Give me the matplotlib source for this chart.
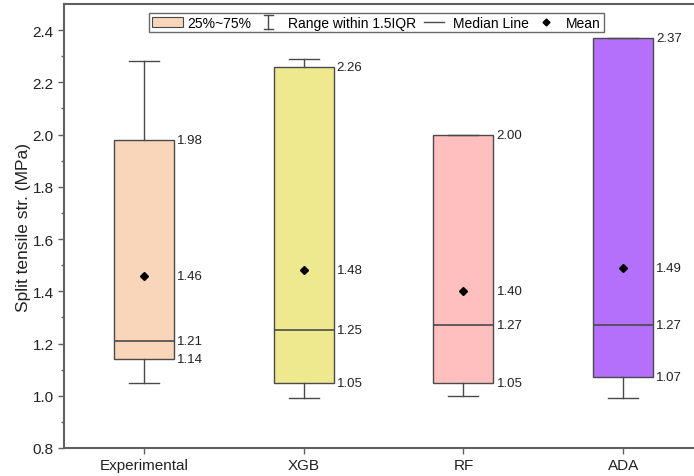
import matplotlib
matplotlib.use('Agg')
import matplotlib.pyplot as plt
from matplotlib.patches import Patch
from matplotlib.lines import Line2D
from matplotlib.legend_handler import HandlerBase

plt.rcParams['font.family'] = ['Liberation Sans', 'DejaVu Sans']

# data
groups = ['Experimental', 'XGB', 'RF', 'ADA']
q1 = [1.14, 1.05, 1.05, 1.07]
median = [1.21, 1.25, 1.27, 1.27]
q3 = [1.98, 2.26, 2.00, 2.37]
mean = [1.46, 1.48, 1.40, 1.49]
whis_lo = [1.05, 0.99, 1.00, 0.99]
whis_hi = [2.28, 2.29, 2.00, 2.37]
colors = ['#F9D5B9', '#EEE98F', '#FFBFBF', '#B470FA']

edge = '#4a4a4a'
axis_col = '#606060'


class WhiskerHandler(HandlerBase):
    def create_artists(self, legend, orig_handle, xdescent, ydescent,
                       width, height, fontsize, trans):
        cx = width / 2 - xdescent
        y0 = -ydescent - 0.15 * height
        y1 = height - ydescent + 0.15 * height
        hw = 0.14 * width
        kw = dict(color=edge, lw=1.0, transform=trans)
        return [Line2D([cx, cx], [y0, y1], **kw),
                Line2D([cx - hw, cx + hw], [y0, y0], **kw),
                Line2D([cx - hw, cx + hw], [y1, y1], **kw)]


class ShortLineHandler(HandlerBase):
    def create_artists(self, legend, orig_handle, xdescent, ydescent,
                       width, height, fontsize, trans):
        cy = height / 2 - ydescent
        x0 = -xdescent + 0.2 * width
        x1 = -xdescent + 0.85 * width
        return [Line2D([x0, x1], [cy, cy], color=edge, lw=1.0, transform=trans)]


fig = plt.figure(figsize=(6.94, 4.77), dpi=100)
ax = fig.add_axes([64 / 694, 28 / 477, 639 / 694, 444 / 477])

stats = []
for i, g in enumerate(groups):
    stats.append(dict(label=g, q1=q1[i], med=median[i], q3=q3[i], mean=mean[i],
                      whislo=whis_lo[i], whishi=whis_hi[i], fliers=[]))

pos = [1, 2, 3, 4]
bp = ax.bxp(stats, positions=pos, widths=0.375, patch_artist=True, showmeans=True,
            boxprops=dict(edgecolor=edge, linewidth=1.0),
            medianprops=dict(color=edge, linewidth=1.2),
            whiskerprops=dict(color=edge, linewidth=1.0),
            capprops=dict(color=edge, linewidth=1.0),
            meanprops=dict(marker='D', markerfacecolor='black', markeredgecolor='black',
                           markersize=4.5))
for patch, c in zip(bp['boxes'], colors):
    patch.set_facecolor(c)

# value labels next to each box
for i, x in enumerate(pos):
    xt = x + 0.375 / 2 + 0.02
    for v in [q3[i], mean[i], median[i], q1[i]]:
        ax.text(xt, v, f'{v:.2f}', ha='left', va='center', fontsize=9.5, color='#222222')

ax.set_xlim(0.5, 4.5)
ax.set_ylim(0.8, 2.5)
ax.set_yticks([0.8, 1.0, 1.2, 1.4, 1.6, 1.8, 2.0, 2.2, 2.4])
ax.set_yticks([0.9, 1.1, 1.3, 1.5, 1.7, 1.9, 2.1, 2.3], minor=True)
ax.set_xticks(pos)
ax.set_xticklabels(groups)
ax.tick_params(axis='both', which='major', labelsize=11, color=axis_col, length=4,
               width=1.0, labelcolor='#222222')
ax.tick_params(axis='y', which='minor', color=axis_col, length=2.5, width=1.0)
ax.set_ylabel('Split tensile str. (MPa)', fontsize=12.5, color='#222222', labelpad=1)
for s in ax.spines.values():
    s.set_color(axis_col)
    s.set_linewidth(1.5)

handles = [Patch(facecolor=colors[0], edgecolor=edge, linewidth=0.8),
           Line2D([], []),
           Line2D([], [], color=edge),
           Line2D([], [], marker='D', color='black', ls='none', markersize=3.5)]
labels = ['25%~75%', 'Range within 1.5IQR', 'Median Line', 'Mean']
leg = ax.legend(handles, labels, ncol=4, loc='upper center', bbox_to_anchor=(0.489, 0.98),
                fontsize=10, frameon=True, fancybox=False, handlelength=2.2,
                handleheight=0.8, handletextpad=0.35, columnspacing=0.1, borderpad=0.2,
                borderaxespad=0.0,
                handler_map={handles[1]: WhiskerHandler(), handles[2]: ShortLineHandler()})
leg.get_frame().set_edgecolor('#444444')
leg.get_frame().set_linewidth(1.0)

fig.savefig('out.png', dpi=100)
